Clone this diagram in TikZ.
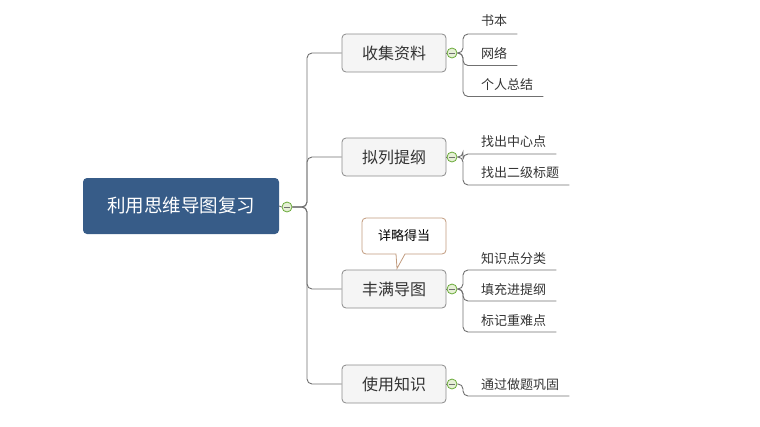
\documentclass[tikz,border=0pt]{standalone}
\usepackage{fontspec}
\setmainfont{Noto Sans CJK SC}
\usetikzlibrary{calc}
\definecolor{rootblue}{HTML}{375C88}
\definecolor{linegray}{HTML}{707070}
\definecolor{boxfill}{HTML}{F5F5F5}
\definecolor{boxline}{HTML}{8A8A8A}
\definecolor{txt}{HTML}{333333}
\definecolor{cgreen}{HTML}{6AAA3A}
\definecolor{cfill}{HTML}{E6F0D6}
\definecolor{callline}{HTML}{C19B7E}
\tikzset{
  x=1pt,y=-1pt,
  conn/.style={draw=linegray,line width=0.9pt,rounded corners=5pt},
  rootbox/.style={fill=rootblue,draw=none,rounded corners=4pt,minimum width=196pt,minimum height=56pt,text=white,font=\fontsize{18.5}{20}\selectfont},
  mainbox/.style={fill=boxfill,draw=boxline,line width=0.8pt,rounded corners=4pt,minimum width=104pt,minimum height=38pt,text=txt,font=\fontsize{16}{18}\selectfont},
  leaf/.style={anchor=west,inner sep=0pt,text=txt,font=\fontsize{13}{15}\selectfont},
  fold/.style={circle,draw=cgreen,fill=cfill,line width=0.8pt,minimum size=10pt,inner sep=0pt,
    path picture={\draw[linegray,line width=0.7pt] ([xshift=-3pt]path picture bounding box.center) -- ([xshift=3pt]path picture bounding box.center);}},
}
\begin{document}
\begin{tikzpicture}
\useasboundingbox (0,0) rectangle (760,426);
% root
\node[rootbox] (root) at (181,206) {利用思维导图复习};
\node[fold] (c0) at (287,207) {};
\draw[conn] (root.east) -- (c0.west);
% main boxes
\node[mainbox] (b1) at (394,53) {收集资料};
\node[mainbox] (b2) at (394,157) {拟列提纲};
\node[mainbox] (b3) at (394,289) {丰满导图};
\node[mainbox] (b4) at (394,384) {使用知识};
\foreach \b/\y in {b1/53,b2/157,b3/289,b4/384}{
  \draw[conn] (c0.east) -- (307,207) -- (307,\y) -- (\b.west);
}
% fold circles after main boxes
\node[fold] (c1) at (452,53) {};
\node[fold] (c2) at (452,157) {};
\node[fold] (c3) at (452,289) {};
\node[fold] (c4) at (452,384) {};
\foreach \n in {1,2,3,4}{\draw[conn] (b\n.east) -- (c\n.west);}
% leaves
\node[leaf] (l11) at (481,21) {书本};
\node[leaf] (l12) at (481,53) {网络};
\node[leaf] (l13) at (481,85) {个人总结};
\node[leaf] (l21) at (481,142) {找出中心点};
\node[leaf] (l22) at (481,173) {找出二级标题};
\node[leaf] (l31) at (481,259) {知识点分类};
\node[leaf] (l32) at (481,290) {填充进提纲};
\node[leaf] (l33) at (481,320.5) {标记重难点};
\node[leaf] (l41) at (481,384.5) {通过做题巩固};
\foreach \c/\l/\yu/\yc in {c1/l11/34/53,c1/l12/65.5/53,c1/l13/96.5/53,
  c2/l21/154/157,c2/l22/185/157,
  c3/l31/270/289,c3/l32/301/289,c3/l33/332/289,
  c4/l41/396/384}{
  \coordinate (e) at ($(\l.east)+(10,0)$);
  \draw[conn] (\c.east) -- (463,\yc) -- (463,\yu) -- (e |- 0,\yu);
}
% callout
\node[inner sep=0pt,font=\fontsize{13}{15}\selectfont] (call) at (404,236) {详略得当};
\draw[draw=callline,line width=0.8pt,fill=white]
  [rounded corners=4pt] (362,218) -- (446,218) -- (446,254) [sharp corners] -- (405,254)
  -- (397,268.5) -- (396,254) [rounded corners=4pt] -- (362,254) -- cycle;
\node[inner sep=0pt,font=\fontsize{13}{15}\selectfont] at (call) {详略得当};
\end{tikzpicture}
\end{document}
